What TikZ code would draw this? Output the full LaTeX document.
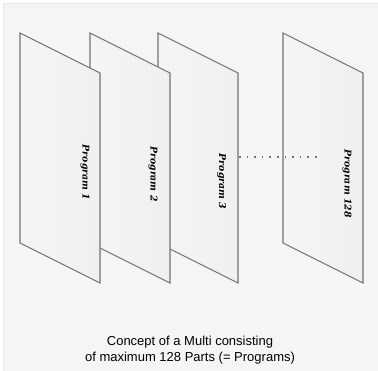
\documentclass[tikz,border=0pt]{standalone}
\usepackage{fontspec}
\setmainfont{Liberation Serif}
\newfontfamily\capfont{Liberation Sans}
\newfontfamily\lblfont{DejaVu Serif}
\begin{document}
\begin{tikzpicture}[x=1pt,y=-1pt,
  plane/.style={draw=black!55, line width=1.1pt, line join=miter,
    left color=black!4, middle color=white, right color=black!6},
  plabel/.style={rotate=-90, font=\lblfont\fontsize{9.3}{11}\selectfont\bfseries\itshape, text=black, inner sep=0pt},
  dotline/.style={draw=black!55, line width=1.1pt, dash pattern=on 1.6pt off 6pt},
  caption/.style={font=\capfont\fontsize{13}{16}\selectfont, text=black, align=center, inner sep=0pt}]
\useasboundingbox (0,0) rectangle (378,371);
\fill[white] (0,0) rectangle (378,371);
\filldraw[fill=black!4, draw=black!9, line width=0.8pt] (3.5,3.5) rectangle (378,371);
% planes (back to front)
\foreach \x/\n in {283/d,158/c,90/b,20/a}{
  \path[plane] (\x,33) coordinate (\n tl) -- (\x+80,73) coordinate (\n tr)
     -- (\x+80,283) coordinate (\n br) -- (\x,243) coordinate (\n bl) -- cycle;
}
\node[plabel] (l1) at (85,172.5) {Program 1};
\node[plabel] (l2) at (153,174) {Program 2};
\node[plabel] (l3) at (221.5,181.5) {Program 3};
\node[plabel] (l128) at (347,183.5) {Program 128};
\coordinate (dstart) at (239,157);
\coordinate (dend) at (318,157);
\draw[dotline] (dstart) -- (dend);
\node[caption] (cap) at (190,350) {Concept of a Multi consisting\\of maximum 128 Parts (= Programs)};
\end{tikzpicture}
\end{document}
